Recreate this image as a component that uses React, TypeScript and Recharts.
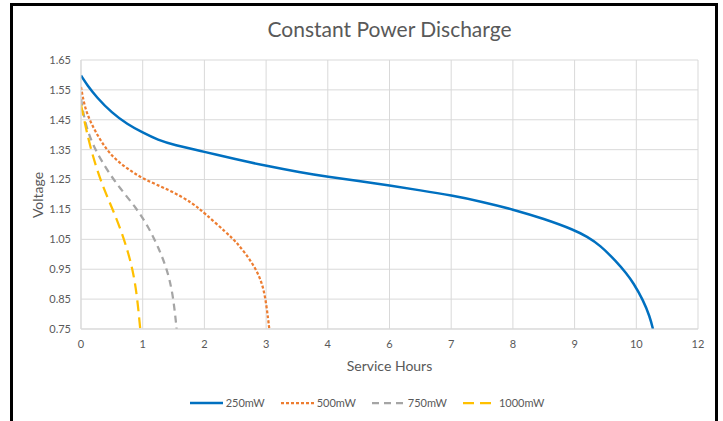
import React from 'react';
import { LineChart, Line, XAxis, YAxis, CartesianGrid } from 'recharts';

// x = position along the category-style axis (one grid step per tick label)
const X_TICK_LABELS = ['0', '1', '2', '3', '4', '6', '7', '8', '9', '10', '12'];
const X_TICKS = [0, 1, 2, 3, 4, 5, 6, 7, 8, 9, 10];
const Y_TICKS = [0.75, 0.85, 0.95, 1.05, 1.15, 1.25, 1.35, 1.45, 1.55, 1.65];

const s250 = [
  { x: 0, y: 1.598 }, { x: 0.1, y: 1.566 }, { x: 0.25, y: 1.526 }, { x: 0.5, y: 1.473 },
  { x: 0.75, y: 1.435 }, { x: 1.0, y: 1.407 }, { x: 1.25, y: 1.382 }, { x: 1.5, y: 1.366 },
  { x: 2.0, y: 1.343 }, { x: 2.5, y: 1.318 }, { x: 3.0, y: 1.296 }, { x: 3.55, y: 1.274 },
  { x: 4.0, y: 1.259 }, { x: 4.5, y: 1.245 }, { x: 5.0, y: 1.230 }, { x: 5.5, y: 1.214 },
  { x: 6.0, y: 1.197 }, { x: 6.5, y: 1.176 }, { x: 7.0, y: 1.150 }, { x: 7.5, y: 1.119 },
  { x: 8.0, y: 1.081 }, { x: 8.2, y: 1.059 }, { x: 8.41, y: 1.031 }, { x: 8.68, y: 0.975 },
  { x: 8.84, y: 0.936 }, { x: 8.95, y: 0.905 }, { x: 9.11, y: 0.847 }, { x: 9.22, y: 0.791 },
  { x: 9.27, y: 0.75 },
];
const s500 = [
  { x: 0, y: 1.56 }, { x: 0.05, y: 1.50 }, { x: 0.146, y: 1.444 }, { x: 0.31, y: 1.382 },
  { x: 0.5, y: 1.327 }, { x: 0.74, y: 1.288 }, { x: 1.01, y: 1.251 }, { x: 1.44, y: 1.215 },
  { x: 1.82, y: 1.170 }, { x: 2.0, y: 1.138 }, { x: 2.36, y: 1.072 }, { x: 2.52, y: 1.040 },
  { x: 2.685, y: 0.998 }, { x: 2.847, y: 0.947 }, { x: 2.955, y: 0.892 }, { x: 3.009, y: 0.825 },
  { x: 3.052, y: 0.75 },
];
const s750 = [
  { x: 0, y: 1.52 }, { x: 0.065, y: 1.438 }, { x: 0.2, y: 1.36 }, { x: 0.42, y: 1.282 },
  { x: 0.63, y: 1.221 }, { x: 0.9, y: 1.154 }, { x: 1.09, y: 1.092 }, { x: 1.25, y: 1.025 },
  { x: 1.39, y: 0.953 }, { x: 1.49, y: 0.869 }, { x: 1.55, y: 0.75 },
];
const s1000 = [
  { x: 0, y: 1.50 }, { x: 0.04, y: 1.46 }, { x: 0.146, y: 1.36 }, { x: 0.31, y: 1.249 },
  { x: 0.47, y: 1.171 }, { x: 0.63, y: 1.092 }, { x: 0.77, y: 1.003 }, { x: 0.85, y: 0.936 },
  { x: 0.91, y: 0.858 }, { x: 0.96, y: 0.75 },
];

const SERIES = [
  { name: '250mW', data: s250, color: '#0070C0', dash: undefined as string | undefined, width: 2.5 },
  { name: '500mW', data: s500, color: '#ED7D31', dash: '3 2', width: 2.25 },
  { name: '750mW', data: s750, color: '#A5A5A5', dash: '7 5', width: 2.25 },
  { name: '1000mW', data: s1000, color: '#FFC000', dash: '11 6', width: 2.25 },
];

const FONT = 'Lato, "Open Sans", sans-serif';
const TXT = '#595959';

export default function App() {
  return (
    <div style={{ position: 'absolute', left: 0, top: 0, width: 723, height: 421, background: '#fff', overflow: 'hidden', fontFamily: FONT }}>
      <div style={{ position: 'absolute', left: 0, top: 16, width: 779, textAlign: 'center', fontSize: 21, color: TXT }}>
        Constant Power Discharge
      </div>
      <div style={{ position: 'absolute', left: 0, top: 0 }}>
        <LineChart width={723} height={421} margin={{ top: 60, right: 25, left: 0, bottom: 0 }}>
          <CartesianGrid stroke="#D9D9D9" strokeWidth={1} />
          <XAxis
            type="number"
            dataKey="x"
            domain={[0, 10]}
            ticks={X_TICKS}
            allowDataOverflow
            interval={0}
            tickFormatter={(v: number) => X_TICK_LABELS[v] ?? ''}
            tickLine={false}
            axisLine={{ stroke: '#D9D9D9' }}
            tickMargin={5}
            height={92}
            tick={{ fill: TXT, fontSize: 11, fontFamily: FONT }}
            label={{ value: 'Service Hours', position: 'insideBottom', offset: 50, fill: TXT, fontSize: 14, fontFamily: FONT }}
          />
          <YAxis
            type="number"
            domain={[0.75, 1.65]}
            ticks={Y_TICKS}
            allowDataOverflow
            interval={0}
            tickFormatter={(v: number) => v.toFixed(2)}
            tickLine={false}
            axisLine={{ stroke: '#D9D9D9' }}
            tickMargin={4}
            width={81}
            tick={{ fill: TXT, fontSize: 11, fontFamily: FONT }}
            label={{
              content: () => (
                <text x={43} y={195} transform="rotate(-90 43 195)" textAnchor="middle" fill={TXT} fontSize={14} fontFamily={FONT}>
                  Voltage
                </text>
              ),
            }}
          />
          {SERIES.map((s) => (
            <Line
              key={s.name}
              data={s.data}
              dataKey="y"
              name={s.name}
              type="basis"
              stroke={s.color}
              strokeWidth={s.width}
              strokeDasharray={s.dash}
              dot={false}
              activeDot={false}
              isAnimationActive={false}
            />
          ))}
        </LineChart>
      </div>
      <div style={{ position: 'absolute', left: 0, top: 396, width: 734, display: 'flex', justifyContent: 'center', alignItems: 'center', gap: 16, fontSize: 11, color: TXT }}>
        {SERIES.map((s) => (
          <div key={s.name} style={{ display: 'flex', alignItems: 'center', gap: 3 }}>
            <svg width={33} height={6}>
              <line x1={0} y1={3} x2={33} y2={3} stroke={s.color} strokeWidth={s.width} strokeDasharray={s.dash} />
            </svg>
            <span>{s.name}</span>
          </div>
        ))}
      </div>
      <div style={{ position: 'absolute', left: 10, top: 3, width: 702, height: 440, border: '3px solid #000' }} />
    </div>
  );
}
